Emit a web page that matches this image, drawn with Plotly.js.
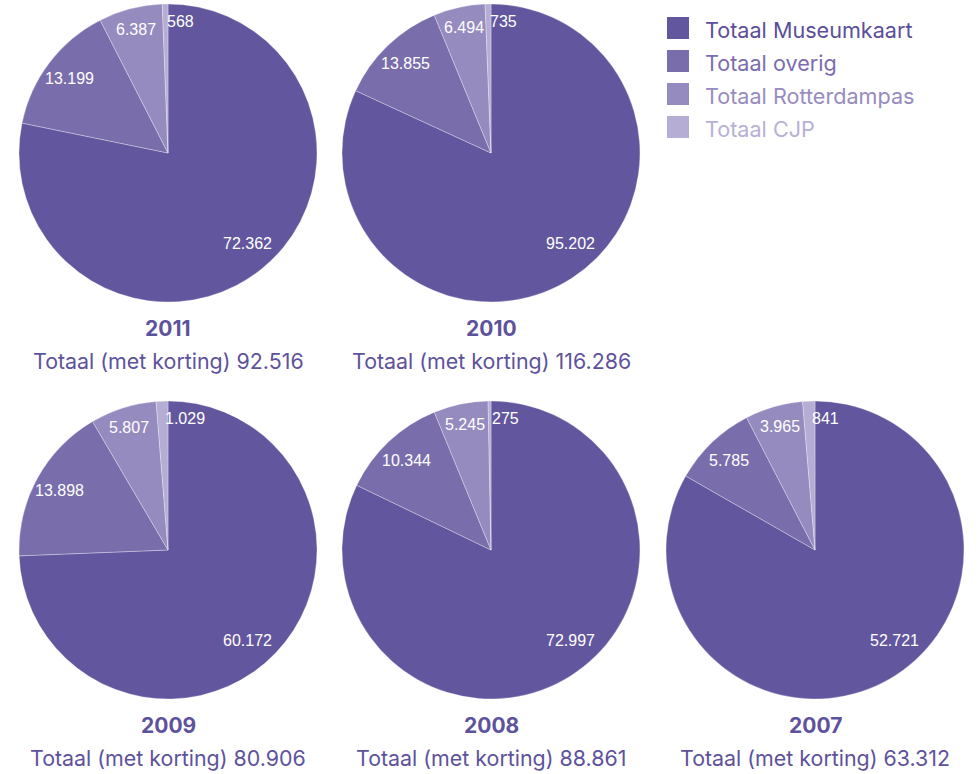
<!DOCTYPE html>
<html><head><meta charset="utf-8">
<script src="https://cdn.plot.ly/plotly-3.0.1.min.js"></script>
<style>html,body{margin:0;padding:0;background:#fff}#chart{width:980px;height:774px}</style>
</head><body><div id="chart"></div>
<script>
var categories = ['Totaal Museumkaart', 'Totaal overig', 'Totaal Rotterdampas', 'Totaal CJP'];
var years = ['2011', '2010', '2009', '2008', '2007'];
var museumkaart = [72362, 95202, 60172, 72997, 52721];
var overig = [13199, 13855, 13898, 10344, 5785];
var rotterdampas = [6387, 6494, 5807, 5245, 3965];
var cjp = [568, 735, 1029, 275, 841];
var totals = [92516, 116286, 80906, 88861, 63312];
var subtitlePrefix = 'Totaal (met korting) ';

var sliceColors = ['#62579e', '#7a6dac', '#968bbf', '#b5add3'];
var legendColors = ['#5b4f9b', '#7b6db0', '#978cc1', '#b7b0d6'];
var W = 980, H = 774, R = 149;
var centers = [[168, 153], [491, 153], [168, 550], [491, 550], [815, 550]];
var labelRadius = [0.81, 0.83, 0.86, 0.88];
var fontTxt = 'Inter, "Open Sans", sans-serif';

function fmt(n) { return String(n).replace(/\B(?=(\d{3})+(?!\d))/g, '.'); }
function px(x) { return x / W; }
function py(y) { return 1 - y / H; }

var data = [], annotations = [], shapes = [];
years.forEach(function (yr, i) {
  var vals = [museumkaart[i], overig[i], rotterdampas[i], cjp[i]];
  var c = centers[i];
  data.push({
    type: 'pie', values: vals, labels: categories, sort: false, direction: 'clockwise', rotation: 0,
    marker: { colors: sliceColors, line: { color: 'rgba(255,255,255,0.5)', width: 0.6 } },
    textinfo: 'none', hoverinfo: 'label+value', showlegend: false,
    domain: { x: [px(c[0] - R), px(c[0] + R)], y: [py(c[1] + R), py(c[1] - R)] }
  });
  var tot = vals.reduce(function (a, b) { return a + b; }, 0);
  var cum = 0;
  vals.forEach(function (v, k) {
    var mid = (cum + v / 2) / tot * 2 * Math.PI;
    cum += v;
    var ang = k === 0 ? 138.7 * Math.PI / 180 : mid;
    var rf = labelRadius[k];
    var lx = c[0] + R * rf * Math.sin(ang);
    var ly = c[1] - R * rf * Math.cos(ang);
    annotations.push({
      xref: 'paper', yref: 'paper', x: px(lx), y: py(ly), showarrow: false,
      xanchor: k === 3 ? 'left' : 'center', yanchor: 'middle',
      text: fmt(v), font: { family: 'Liberation Sans, Arial, sans-serif', size: 16, color: '#ffffff' }
    });
  });
  annotations.push({
    xref: 'paper', yref: 'paper', x: px(c[0]), y: py(c[1] + 175), showarrow: false,
    xanchor: 'center', yanchor: 'middle', text: '<b>' + yr + '</b>',
    font: { family: fontTxt, size: 21, color: '#5e529c' }
  });
  annotations.push({
    xref: 'paper', yref: 'paper', x: px(c[0]), y: py(c[1] + 208), showarrow: false,
    xanchor: 'center', yanchor: 'middle', text: subtitlePrefix + fmt(totals[i]),
    font: { family: fontTxt, size: 21.4, color: '#5e529c' }
  });
});

categories.forEach(function (cat, k) {
  var y0 = 17 + k * 33;
  shapes.push({ type: 'rect', xref: 'paper', yref: 'paper', x0: px(667), x1: px(689), y0: py(y0 + 22), y1: py(y0),
    fillcolor: sliceColors[k], line: { width: 0 } });
  annotations.push({ xref: 'paper', yref: 'paper', x: px(703), y: py(y0 + 13), showarrow: false,
    xanchor: 'left', yanchor: 'middle', text: cat, font: { family: fontTxt, size: 21.6, color: legendColors[k] } });
});

Plotly.newPlot('chart', data, {
  width: W, height: H, margin: { l: 0, r: 0, t: 0, b: 0 },
  paper_bgcolor: '#ffffff', plot_bgcolor: '#ffffff', showlegend: false,
  annotations: annotations, shapes: shapes
}, { staticPlot: true });
</script></body></html>
